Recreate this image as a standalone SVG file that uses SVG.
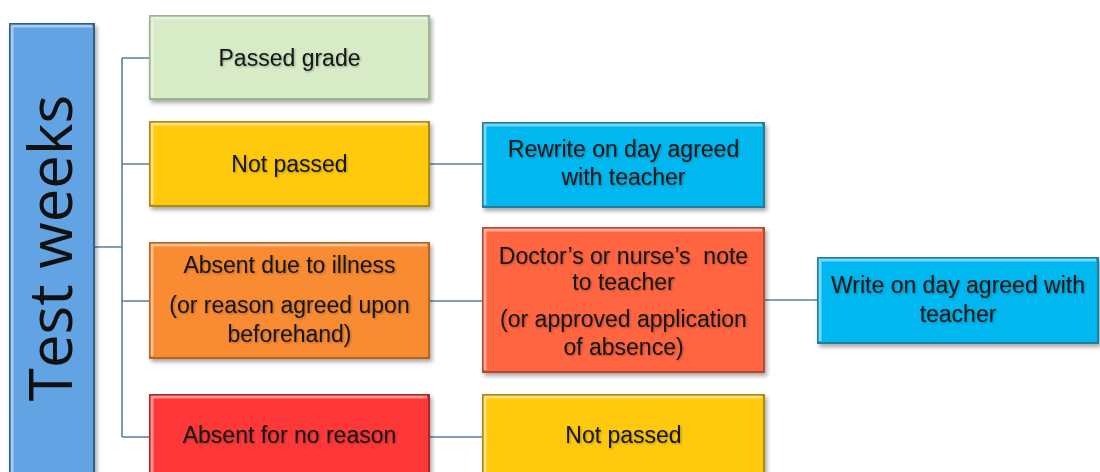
<svg xmlns="http://www.w3.org/2000/svg" width="1100" height="472" viewBox="0 0 1100 472">
<defs>
<filter id="sh" x="-5%" y="-5%" width="115%" height="120%">
<feGaussianBlur in="SourceAlpha" stdDeviation="2"/>
<feOffset dx="2" dy="3" result="b"/>
<feComponentTransfer><feFuncA type="linear" slope="0.35"/></feComponentTransfer>
<feMerge><feMergeNode/><feMergeNode in="SourceGraphic"/></feMerge>
</filter>
<filter id="ts" x="-5%" y="-20%" width="110%" height="140%">
<feGaussianBlur in="SourceAlpha" stdDeviation="0.8"/>
<feOffset dx="1" dy="1.2"/>
<feComponentTransfer><feFuncA type="linear" slope="0.3"/></feComponentTransfer>
<feMerge><feMergeNode/><feMergeNode in="SourceGraphic"/></feMerge>
</filter>
</defs>
<style>
.box{stroke-width:2;filter:url(#sh)}
.hl{fill:none;stroke:#ffffff;stroke-opacity:0.45;stroke-width:3}
.green{fill:#d6ebc6;stroke:#9fb58f}
.gold{fill:#ffc907;stroke:#b08a10}
.orange{fill:#f98b30;stroke:#b8651f}
.red{fill:#fe3737;stroke:#b02828}
.sky{fill:#00b7ef;stroke:#1a7fa0}
.tomato{fill:#ff6540;stroke:#b8482e}
.blue{fill:#62a3e3;stroke:#2f5f8f}
.t{font-family:"Liberation Sans",Arial,sans-serif;font-size:23px;fill:#151515;text-anchor:middle;filter:url(#ts)}
.big{font-family:"Open Sans","Liberation Sans",sans-serif;font-size:60px;fill:#111111;text-anchor:middle}
.c{fill:none;stroke:#5a7fa6;stroke-width:1.6}
</style>
<g id="connectors">
<path class="c" d="M94 247 H122 M122 58 V437 M122 58 H150 M122 164 H150 M122 301 H150 M122 437 H150"/>
<path class="c" d="M429 164 H483 M429 301 H483 M764 300 H818 M429 437 H483"/>
</g>
<g id="test-weeks">
<rect class="box blue" x="10" y="24" width="84" height="452"/>
<path class="hl" d="M12 474 V26 H92"/>
<text class="big" transform="translate(72,248) rotate(-90)">Test weeks</text>
</g>
<g id="passed-grade">
<rect class="box green" x="150" y="16" width="279" height="83"/>
<path class="hl" d="M152 97 V18 H427"/>
<text class="t" x="289.5" y="66">Passed grade</text>
</g>
<g id="not-passed-1">
<rect class="box gold" x="150" y="122" width="279" height="84"/>
<path class="hl" d="M152 204 V124 H427"/>
<text class="t" x="289.5" y="172">Not passed</text>
</g>
<g id="absent-illness">
<rect class="box orange" x="150" y="243" width="279" height="115"/>
<path class="hl" d="M152 356 V245 H427"/>
<text class="t" x="289.5" y="273">Absent due to illness</text>
<text class="t" x="289.5" y="313">(or reason agreed upon</text>
<text class="t" x="289.5" y="342">beforehand)</text>
</g>
<g id="absent-no-reason">
<rect class="box red" x="150" y="395" width="279" height="85"/>
<path class="hl" d="M152 480 V397 H427"/>
<text class="t" x="289.5" y="443">Absent for no reason</text>
</g>
<g id="rewrite">
<rect class="box sky" x="483" y="123" width="281" height="84"/>
<path class="hl" d="M485 205 V125 H762"/>
<text class="t" x="623.5" y="157">Rewrite on day agreed</text>
<text class="t" x="623.5" y="185">with teacher</text>
</g>
<g id="doctor-note">
<rect class="box tomato" x="483" y="228" width="281" height="144"/>
<path class="hl" d="M485 370 V230 H762"/>
<text class="t" x="623.5" y="264" xml:space="preserve">Doctor’s or nurse’s  note</text>
<text class="t" x="623.5" y="290">to teacher</text>
<text class="t" x="623.5" y="327">(or approved application</text>
<text class="t" x="623.5" y="355">of absence)</text>
</g>
<g id="not-passed-2">
<rect class="box gold" x="483" y="395" width="281" height="85"/>
<path class="hl" d="M485 480 V397 H762"/>
<text class="t" x="623.5" y="443">Not passed</text>
</g>
<g id="write">
<rect class="box sky" x="818" y="258" width="280" height="85"/>
<path class="hl" d="M820 341 V260 H1096"/>
<text class="t" x="958" y="293">Write on day agreed with</text>
<text class="t" x="958" y="322">teacher</text>
</g>
</svg>
